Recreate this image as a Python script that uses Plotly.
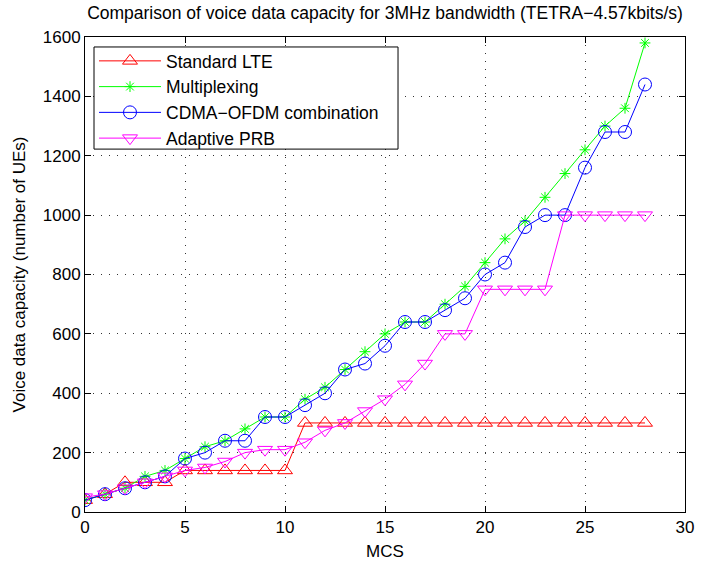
import plotly.graph_objects as go

mcs = list(range(29))
standard_lte = [40, 60, 100, 100, 100, 140, 140, 140, 140, 140, 140,
                300, 300, 300, 300, 300, 300, 300, 300, 300, 300, 300, 300, 300, 300, 300, 300, 300, 300]
multiplexing = [40, 60, 80, 120, 140, 180, 220, 240, 280, 320, 320,
                380, 420, 480, 540, 600, 640, 640, 700, 760, 840, 920, 980, 1060, 1140, 1220, 1300, 1360, 1580]
cdma_ofdm = [40, 60, 80, 100, 120, 180, 200, 240, 240, 320, 320,
             360, 400, 480, 500, 560, 640, 640, 680, 720, 800, 840, 960, 1000, 1000, 1160, 1280, 1280, 1440]
adaptive_prb = [50, 60, 80, 100, 120, 140, 150, 170, 200, 210, 210,
                235, 275, 300, 340, 380, 430, 500, 600, 600, 750, 750, 750, 750, 1000, 1000, 1000, 1000, 1000]

x_ticks = [0, 5, 10, 15, 20, 25, 30]
y_ticks = [0, 200, 400, 600, 800, 1000, 1200, 1400, 1600]

series = [
    ("Standard LTE", standard_lte, "#ff0000", "triangle-up-open", 13),
    ("Multiplexing", multiplexing, "#00ff00", "asterisk-open", 9),
    ("CDMA\u2212OFDM combination", cdma_ofdm, "#0000ff", "circle-open", 13),
    ("Adaptive PRB", adaptive_prb, "#ff00ff", "triangle-down-open", 13),
]

fig = go.Figure()
for name, vals, col, sym, sz in series:
    fig.add_trace(go.Scatter(
        x=mcs, y=vals, name=name, mode="lines+markers",
        line=dict(color=col, width=1),
        marker=dict(symbol=sym, size=sz, color=col, line=dict(color=col, width=1)),
    ))

axis_common = dict(
    showline=True, linecolor="black", linewidth=1, mirror="allticks",
    ticks="inside", ticklen=6, tickcolor="black",
    showgrid=True, gridcolor="#333333", griddash="1px,7px", gridwidth=1,
    zeroline=False, tickfont=dict(size=17, color="black"), automargin=False,
)

# legend frame drawn as a shape so its padding matches the reference
fig.add_shape(type="rect", xref="paper", yref="paper",
              x0=0.015, x1=0.5217, y0=0.764, y1=0.979,
              line=dict(color="black", width=1), fillcolor="white", layer="above")

fig.update_layout(
    width=702, height=562,
    paper_bgcolor="white", plot_bgcolor="white",
    font=dict(family="Liberation Sans, Arial, sans-serif", color="black", size=17),
    margin=dict(l=85, r=17, t=37, b=50),
    title=dict(text="Comparison of voice data capacity for 3MHz bandwidth (TETRA\u22124.57kbits/s)",
               x=0.5, xanchor="center", xref="paper", y=0.977, yanchor="middle",
               font=dict(size=17.5, color="black")),
    xaxis=dict(range=[0, 30], tickvals=x_ticks,
               title=dict(text="MCS", font=dict(size=17), standoff=8), **axis_common),
    yaxis=dict(range=[0, 1600], tickvals=y_ticks,
               title=dict(text="Voice data capacity (number of UEs)", font=dict(size=17), standoff=12),
               **axis_common),
    legend=dict(x=0.015, y=0.9874, xanchor="left", yanchor="top",
                bgcolor="rgba(0,0,0,0)", borderwidth=0,
                font=dict(size=17.5), tracegroupgap=0, itemwidth=62),
    showlegend=True,
)

fig.write_html("out.html", config={"displayModeBar": False},
               post_script="document.body.style.margin='0';")
